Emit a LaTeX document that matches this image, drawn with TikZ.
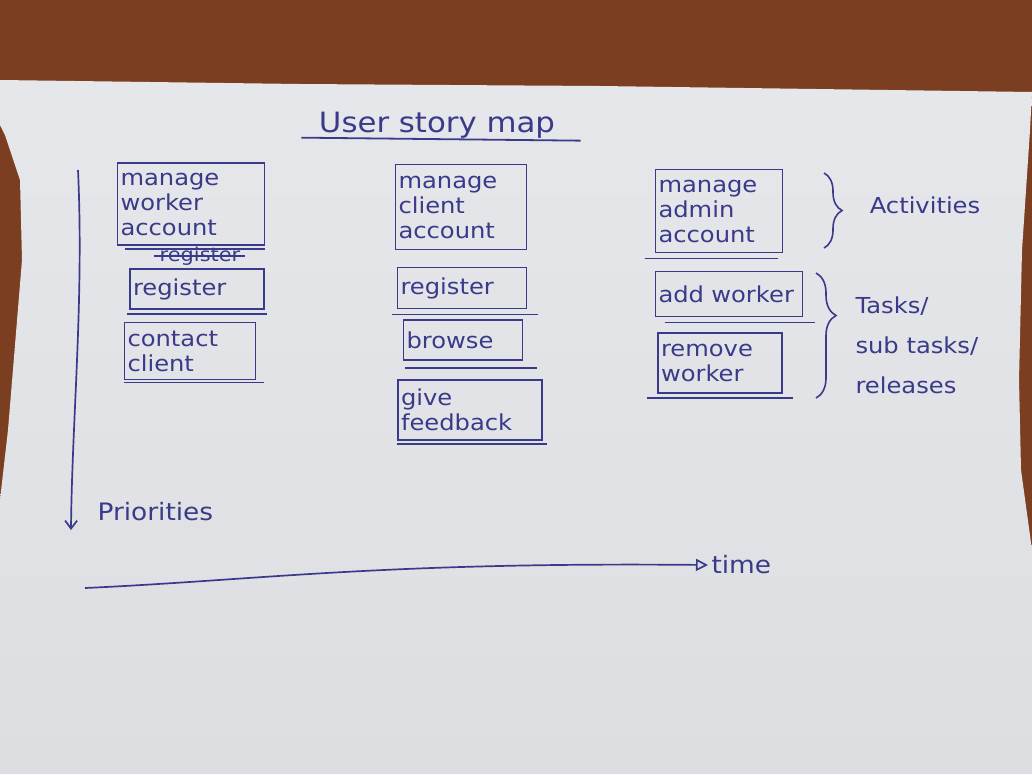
\documentclass[tikz,border=0pt]{standalone}
\usepackage{fontspec}
\setmainfont{DejaVu Sans}[FakeStretch=1.1]
\usepackage{xcolor}
\usetikzlibrary{arrows.meta, positioning, decorations.pathreplacing}
\definecolor{ink}{RGB}{58,58,138}
\definecolor{wood}{RGB}{124,62,32}
\definecolor{paperTop}{RGB}{230,231,234}
\definecolor{paperBot}{RGB}{221,222,225}

\begin{document}
\begin{tikzpicture}[x=1pt, y=-1pt,
  hand/.style={text=ink, font=\fontsize{22}{25}\selectfont, align=left},
  card/.style={hand, draw=ink, line width=1.8pt, inner sep=3pt},
  underline/.style={draw=ink, line width=1.8pt},
  brace/.style={draw=ink, line width=1.6pt, decorate, decoration={brace, amplitude=#1}},
  arrow/.style={draw=ink, line width=1.7pt}
]
\useasboundingbox (0,0) rectangle (1032,774);
% table and sheet of paper
\fill[wood] (0,0) rectangle (1032,774);
\shade[top color=paperTop, bottom color=paperBot] (0,80) -- (300,84) -- (600,86) -- (1032,92) -- (1030,130)
  -- (1022,250) -- (1019,380) -- (1021,470) -- (1032,550) -- (1032,774) -- (0,774) -- (0,500)
  -- (8,430) -- (22,260) -- (20,180) -- (5,135) -- (0,125) -- cycle;
% title
\node[hand, font=\fontsize{28}{30}\selectfont] (title) at (437,125) {User story map};
\draw[underline] ([xshift=-14pt,yshift=4pt]title.south west) -- ([xshift=22pt,yshift=1pt]title.south east);
% worker column
\node[card, text width=141pt, minimum height=82pt] (workerAcct) at (191,204) {manage\\worker\\account};
\node[hand, font=\fontsize{19}{20}\selectfont, inner sep=0pt] (oldReg) at (200,256) {register};
\draw[underline, line width=1.4pt] ([xshift=-6pt]oldReg.west) -- ([xshift=4pt]oldReg.east);
\node[card, text width=128pt, minimum height=40pt] (workerReg) at (197,289) {register};
\node[card, text width=125pt, minimum height=57pt] (contactClient) at (190,351) {contact\\client};
% client column
\node[card, text width=125pt, minimum height=85pt] (clientAcct) at (461,207) {manage\\client\\account};
\node[card, text width=123pt, minimum height=41pt] (clientReg) at (462,288) {register};
\node[card, text width=113pt, minimum height=40pt] (browse) at (463,340) {browse};
\node[card, text width=138pt, minimum height=60pt] (feedback) at (470,410) {give\\feedback};
% admin column
\node[card, text width=121pt, minimum height=83pt] (adminAcct) at (719,211) {manage\\admin\\account};
\node[card, text width=141pt, minimum height=45pt] (addWorker) at (729,294) {add worker};
\node[card, text width=118pt, minimum height=60pt] (removeWorker) at (720,363) {remove\\worker};
\foreach \n/\l/\r/\d in {workerAcct/8/0/3, workerReg/-2/2/4, contactClient/0/8/2, clientReg/-5/11/5, browse/2/14/7,
  feedback/0/4/3, adminAcct/-10/-5/5, addWorker/10/12/5, removeWorker/-10/10/4}
  \draw[underline] ([xshift=\l pt, yshift=-\d pt]\n.south west) -- ([xshift=\r pt, yshift=-\d pt]\n.south east);
% braces
\coordinate (actTop) at (824,173);
\coordinate (actBot) at (824,248);
\coordinate (taskTop) at (816,273);
\coordinate (taskBot) at (816,398);
\draw[brace=18pt] (actTop) -- (actBot);
\draw[brace=20pt, decoration={aspect=0.34}] (taskTop) -- (taskBot);
\node[hand] (activitiesLbl) at (925,205) {Activities};
\node[hand, anchor=west, font=\fontsize{22}{40}\selectfont] (tasksLbl) at (852,345) {Tasks/\\sub tasks/\\releases};
% axes
\coordinate (prioTop) at (78,170);
\coordinate (prioEnd) at (71,530);
\draw[arrow, -{Straight Barb[length=8pt, width=12pt]}] (prioTop) .. controls (84,300) and (72,420) .. (prioEnd);
\node[hand, anchor=west, font=\fontsize{24}{26}\selectfont] (prioritiesLbl) at (94,512) {Priorities};
\coordinate (timeStart) at (85,588);
\node[hand, anchor=west, font=\fontsize{24}{26}\selectfont] (timeLbl) at (708,565) {time};
\draw[arrow, -{Triangle[open, length=12pt, width=12pt]}] (timeStart) .. controls (260,580) and (380,562) .. (timeLbl.west);
\end{tikzpicture}
\end{document}
